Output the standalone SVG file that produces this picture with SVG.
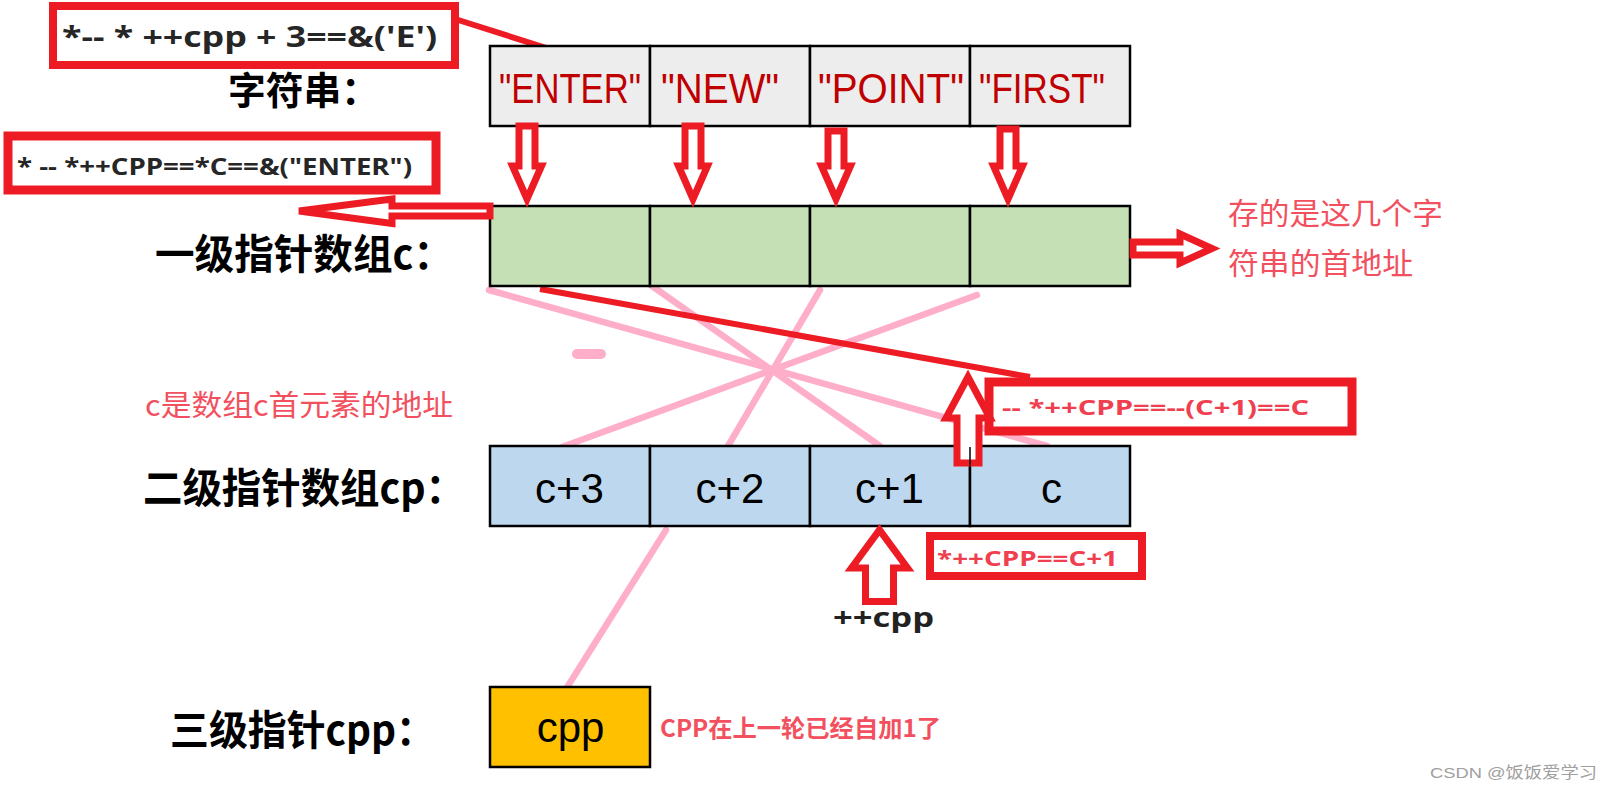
<svg xmlns="http://www.w3.org/2000/svg" width="1613" height="794" viewBox="0 0 1613 794">
<style>
.lbl{font-family:"Noto Sans CJK SC","Noto Sans",sans-serif;font-weight:bold;fill:#000}
.note{font-family:"Noto Sans CJK SC","Noto Sans",sans-serif;fill:#F2505E}
.fml{font-family:"Open Sans","Noto Sans CJK SC",sans-serif;font-weight:bold}
.cell{stroke:#000;stroke-width:2.5}
.str{font-family:"Liberation Sans",sans-serif;font-size:43px;fill:#C00000;text-anchor:middle}
.ptr{font-family:"Liberation Sans",sans-serif;font-size:42px;fill:#000;text-anchor:middle}
.pink{stroke:#FFAEC9;stroke-width:6.5;stroke-linecap:round;fill:none}
.redbox{fill:none;stroke:#ED1C24}
.arrow{fill:#fff;stroke:#ED1C24;stroke-width:7;stroke-linejoin:miter}
.redline{stroke:#ED1C24;stroke-width:6;fill:none}
</style>
<rect x="0" y="0" width="1613" height="794" fill="#fff"/>

<g id="connectors-under">
  <line class="pink" x1="489" y1="290" x2="1047" y2="446"/>
  <line class="pink" x1="652" y1="286" x2="880" y2="446"/>
  <line class="pink" x1="820" y1="290" x2="728" y2="446"/>
  <line class="pink" x1="977" y1="295" x2="562" y2="447"/>
  <line class="pink" x1="666" y1="530" x2="566" y2="689"/>
  <line class="pink" x1="577" y1="354" x2="601" y2="354" style="stroke-width:10"/>
  <line class="redline" x1="540" y1="289" x2="1030" y2="377"/>
  <line class="redline" x1="455" y1="19" x2="603" y2="66"/>
</g>

<g id="label-strings">
  <text class="lbl" x="228" y="104" font-size="38" textLength="151" lengthAdjust="spacingAndGlyphs">字符串：</text>
</g>
<g id="node-strings">
  <rect class="cell" x="490" y="46" width="160" height="80" fill="#EDEDED"/>
  <rect class="cell" x="650" y="46" width="160" height="80" fill="#EDEDED"/>
  <rect class="cell" x="810" y="46" width="160" height="80" fill="#EDEDED"/>
  <rect class="cell" x="970" y="46" width="160" height="80" fill="#EDEDED"/>
  <text class="str" x="570" y="103" textLength="142" lengthAdjust="spacingAndGlyphs">"ENTER"</text>
  <text class="str" x="720" y="103" textLength="118" lengthAdjust="spacingAndGlyphs">"NEW"</text>
  <text class="str" x="891" y="103" textLength="146" lengthAdjust="spacingAndGlyphs">"POINT"</text>
  <text class="str" x="1042" y="103" textLength="126" lengthAdjust="spacingAndGlyphs">"FIRST"</text>
</g>

<g id="label-c">
  <text class="lbl" x="155" y="269" font-size="41" textLength="298" lengthAdjust="spacingAndGlyphs">一级指针数组c：</text>
</g>
<g id="node-c">
  <rect class="cell" x="490" y="206" width="160" height="80" fill="#C5E0B4"/>
  <rect class="cell" x="650" y="206" width="160" height="80" fill="#C5E0B4"/>
  <rect class="cell" x="810" y="206" width="160" height="80" fill="#C5E0B4"/>
  <rect class="cell" x="970" y="206" width="160" height="80" fill="#C5E0B4"/>
</g>

<g id="label-cp">
  <text class="lbl" x="143" y="503" font-size="41" textLength="322" lengthAdjust="spacingAndGlyphs">二级指针数组cp：</text>
</g>
<g id="node-cp">
  <rect class="cell" x="490" y="446" width="160" height="80" fill="#BDD7EE"/>
  <rect class="cell" x="650" y="446" width="160" height="80" fill="#BDD7EE"/>
  <rect class="cell" x="810" y="446" width="160" height="80" fill="#BDD7EE"/>
  <rect class="cell" x="970" y="446" width="160" height="80" fill="#BDD7EE"/>
  <text class="ptr" x="569.5" y="503">c+3</text>
  <text class="ptr" x="730" y="503">c+2</text>
  <text class="ptr" x="889.5" y="503">c+1</text>
  <text class="ptr" x="1051.5" y="503">c</text>
</g>

<g id="label-cpp">
  <text class="lbl" x="170" y="745" font-size="41" textLength="265" lengthAdjust="spacingAndGlyphs">三级指针cpp：</text>
</g>
<g id="node-cpp">
  <rect class="cell" x="490" y="687" width="160" height="80" fill="#FFC000"/>
  <text class="ptr" x="570.5" y="742">cpp</text>
</g>

<g id="connectors">
  <path class="arrow" d="M519,126 H535 V166 H541.5 L527,199 L512.5,166 H519 Z"/>
  <path class="arrow" d="M685,126 H701 V166 H707.5 L693,199 L678.5,166 H685 Z"/>
  <path class="arrow" d="M828,131 H844 V166 H850.5 L836,199 L821.5,166 H828 Z"/>
  <path class="arrow" d="M1000,129 H1016 V166 H1022.5 L1008,199 L993.5,166 H1000 Z"/>
  <path class="arrow" d="M490,206 H392 V199 L299,211 L392,223.5 V216 H490 Z"/>
  <path class="arrow" d="M1133,242 H1180 V234 L1212,248.5 L1180,263 V255 H1133 Z"/>
  <path class="arrow" d="M957,463 V418 H946 L968,377 L990,418 H979 V463 Z"/>
  <line x1="970" y1="447" x2="970" y2="466" stroke="#000" stroke-width="1.5"/>
  <path class="arrow" d="M865.5,601.5 V568 H851.5 L879.5,530 L907.5,568 H893.5 V601.5 Z"/>
</g>

<g id="note-top">
  <rect class="redbox" x="53" y="6" width="402" height="59" stroke-width="8"/>
  <text class="fml" x="62" y="47" font-size="28" fill="#262626" textLength="375" lengthAdjust="spacingAndGlyphs">*-- * ++cpp + 3==&amp;('E')</text>
</g>
<g id="note-enter">
  <rect class="redbox" x="8" y="136" width="428" height="54" stroke-width="9"/>
  <text class="fml" x="17" y="175" font-size="24" fill="#262626" textLength="395" lengthAdjust="spacingAndGlyphs">* -- *++CPP==*C==&amp;("ENTER")</text>
</g>
<g id="note-c-minus">
  <rect class="redbox" x="989" y="382" width="363" height="49" stroke-width="9"/>
  <text class="fml" x="1002" y="415" font-size="22" fill="#F04050" font-weight="600" textLength="307" lengthAdjust="spacingAndGlyphs">-- *++CPP==--(C+1)==C</text>
</g>
<g id="note-c-plus1">
  <rect class="redbox" x="930" y="536" width="212" height="40" stroke-width="8"/>
  <text class="fml" x="937" y="566" font-size="22" fill="#F04050" textLength="181" lengthAdjust="spacingAndGlyphs">*++CPP==C+1</text>
</g>
<g id="note-inc">
  <text class="fml" x="833" y="627" font-size="27" fill="#222" textLength="101" lengthAdjust="spacingAndGlyphs">++cpp</text>
</g>
<g id="note-addr">
  <text class="note" x="1228" y="224" font-size="30" textLength="215" lengthAdjust="spacingAndGlyphs">存的是这几个字</text>
  <text class="note" x="1228" y="274" font-size="30" textLength="185" lengthAdjust="spacingAndGlyphs">符串的首地址</text>
</g>
<g id="note-c-first">
  <text class="note" x="145" y="416" font-size="29" textLength="308" lengthAdjust="spacingAndGlyphs">c是数组c首元素的地址</text>
</g>
<g id="note-cpp">
  <text class="note" x="660" y="737" font-size="24" font-weight="bold" textLength="281" lengthAdjust="spacingAndGlyphs">CPP在上一轮已经自加1了</text>
</g>
<g id="watermark">
  <text x="1430" y="778" font-family="Liberation Sans, Noto Sans CJK SC, sans-serif" font-size="15.5" fill="#A0A0A0" textLength="167" lengthAdjust="spacingAndGlyphs">CSDN @饭饭爱学习</text>
</g>
</svg>
